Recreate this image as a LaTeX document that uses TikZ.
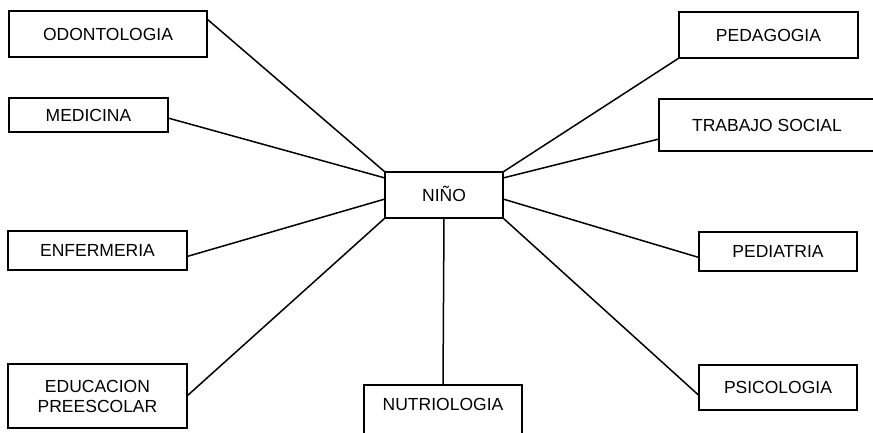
\documentclass[tikz,border=0pt]{standalone}
\usepackage{fontspec}
\setmainfont{Liberation Sans}

\begin{document}
\begin{tikzpicture}[x=1pt, y=-1pt, line width=1.5pt,
	box/.style={draw, line width=1.6pt, inner sep=0pt, outer sep=0pt, anchor=north west,
		text height=12.5pt, text depth=0pt, font=\fontsize{17.5}{20}\selectfont}]
	\useasboundingbox (0,0) rectangle (873,432);

	\node [box, minimum width=118pt, minimum height=46pt] (nino) at (385,172) {NIÑO};

	% izquierda
	\node [box, minimum width=198pt, minimum height=46pt] (odonto) at (9,11) {ODONTOLOGIA};
	\node [box, minimum width=159pt, minimum height=34pt] (medicina) at (9,98) {MEDICINA};
	\node [box, minimum width=179pt, minimum height=39pt] (enfer) at (8,231) {ENFERMERIA};
	\node [box, minimum width=179pt, minimum height=64pt, align=center,
		text height={}, text depth={}] (educ) at (8,364) {EDUCACION\\PREESCOLAR};

	% abajo
	\node [box, minimum width=158pt, text height=25pt, text depth=35pt] (nutri) at (364,385) {NUTRIOLOGIA};

	% derecha
	\node [box, minimum width=179pt, minimum height=46pt] (pedagogia) at (679,12) {PEDAGOGIA};
	\node [box, minimum width=216pt, minimum height=52pt] (trabajo) at (659,99) {TRABAJO SOCIAL};
	\node [box, minimum width=158pt, minimum height=39pt] (pediatria) at (699,232) {PEDIATRIA};
	\node [box, minimum width=158pt, minimum height=45pt] (psico) at (699,365) {PSICOLOGIA};

	\draw ([yshift=-8pt]odonto.north east) -- (nino.north west);
	\draw ([yshift=-3pt]medicina.east) -- ([yshift=-6pt]nino.north west);
	\draw ([yshift=-6pt]enfer.east) -- ([yshift=-4pt]nino.west);
	\draw (educ.east) -- (nino.south west);

	\draw (nino.south) -- (nutri.north);

	\draw (nino.north east) -- (pedagogia.south west);
	\draw ([yshift=-6pt]nino.north east) -- ([yshift=12pt]trabajo.south west);
	\draw ([yshift=-4pt]nino.east) -- ([yshift=-6pt]pediatria.west);
	\draw (nino.south east) -- ([yshift=-8pt]psico.west);
\end{tikzpicture}
\end{document}
